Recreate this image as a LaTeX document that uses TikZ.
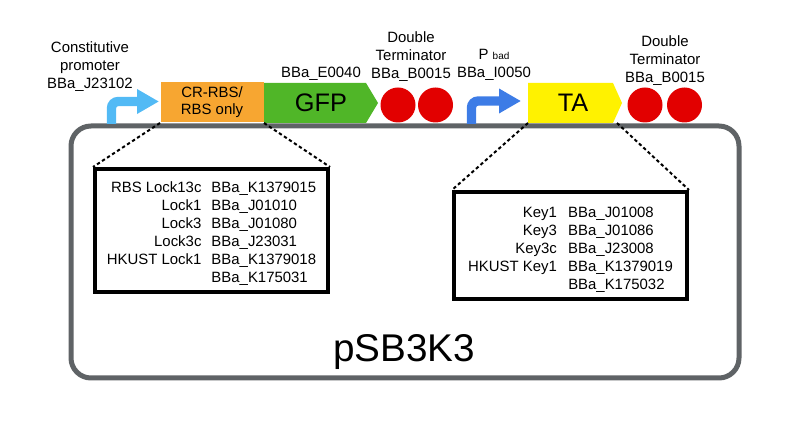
\documentclass[tikz,border=0pt]{standalone}
\usepackage{fontspec}
\setmainfont{Liberation Sans}
\usetikzlibrary{arrows.meta}

\definecolor{plasmidgray}{RGB}{95,99,102}
\definecolor{lightpromoter}{RGB}{82,186,245}
\definecolor{badpromoter}{RGB}{61,124,230}
\definecolor{rbsorange}{RGB}{247,166,49}
\definecolor{gfpgreen}{RGB}{80,182,40}
\definecolor{terminred}{RGB}{226,0,0}
\definecolor{tayellow}{RGB}{255,242,0}

\tikzset{every picture/.style={line width=0.75pt}}
\tikzset{
  label text/.style={inner sep=0.75pt, align=center, font=\fontsize{11.2}{13.5}\selectfont},
  big text/.style={inner sep=0.75pt, font=\fontsize{19}{22}\selectfont},
  promoter arrow/.style={line width=7pt, rounded corners=5pt, -{Triangle[length=16.5pt,width=17.5pt]}},
  part box/.style={inner sep=0pt, align=center, minimum height=30pt, anchor=south west, font=\fontsize{11.2}{12.75}\selectfont},
  list box/.style={draw, line width=3pt, inner sep=0pt, minimum width=174.75pt, font=\fontsize{11.2}{13.5}\selectfont},
  zoom line/.style={line width=1.5pt, dash pattern={on 2.5pt off 2pt}}
}

\begin{document}
\begin{tikzpicture}[x=0.75pt,y=0.75pt,yscale=-1,xscale=1]
\useasboundingbox (0,0) rectangle (800,434);

%Shape: Rounded Rectangle
\draw [plasmidgray, line width=3.75pt, rounded corners=15pt] (71,126) rectangle (739,378);

%Shape: Promoter
\draw [promoter arrow, lightpromoter] (111.5,124) -- (111.5,101.5) -- (159,101.5);
\draw [promoter arrow, badpromoter] (471.5,124) -- (471.5,101) -- (521,101);

%Shape: Rectangle
\draw (160,123) node [part box, fill=rbsorange, minimum width=77.25pt] (rbs) {CR-RBS/\\RBS only};

%Shape: Pentagon
\fill [gfpgreen] (264,83) -- (366,83) -- (378,103) -- (366,123) -- (264,123) -- cycle;
\fill [tayellow] (528,83) -- (613,83) -- (622,103) -- (613,123) -- (528,123) -- cycle;
\coordinate (taL) at (528,123);
\coordinate (taR) at (617,123);

%Shape: Circle
\fill [terminred] (398,105) circle (17.5);
\fill [terminred] (435.5,105) circle (17.5);
\fill [terminred] (645,105) circle (17.5);
\fill [terminred] (684.5,105) circle (17.5);

%Shape: Rectangle
\draw (211.5,230.5) node [list box, minimum height=92.25pt] (lockbox) {%
  \raisebox{-2.25pt}[\height][\depth]{\begin{tabular}{@{}r@{\hspace{7.5pt}}l@{}}
  RBS Lock13c & BBa\_K1379015\\
  Lock1 & BBa\_J01010\\
  Lock3 & BBa\_J01080\\
  Lock3c & BBa\_J23031\\
  HKUST Lock1 & BBa\_K1379018\\
  & BBa\_K175031
  \end{tabular}}};
\draw (570.5,245.5) node [list box, minimum height=80.25pt] (keybox) {%
  \raisebox{-3pt}[\height][\depth]{\begin{tabular}{@{}r@{\hspace{8.5pt}}l@{}}
  Key1 & BBa\_J01008\\
  Key3 & BBa\_J01086\\
  Key3c & BBa\_J23008\\
  HKUST Key1 & BBa\_K1379019\\
  & BBa\_K175032
  \end{tabular}}};

%Straight Lines
\draw [zoom line] (rbs.south west) -- (lockbox.north west);
\draw [zoom line] (rbs.south east) -- (lockbox.north east);
\draw [zoom line] (taL) -- (keybox.north west);
\draw [zoom line] (taR) -- (keybox.north east);

% Text Node
\draw (321,103) node [big text] (gfp) {GFP};
% Text Node
\draw (573,103) node [big text] (ta) {TA};
% Text Node
\draw (90,67) node [label text] (constlabel) {Constitutive\\promoter\\BBa\_J23102};
% Text Node
\draw (321,74) node [label text] (gfplabel) {BBa\_E0040};
% Text Node
\draw (411,57) node [label text] (termlabel) {Double\\Terminator\\BBa\_B0015};
% Text Node
\draw (494,64.5) node [label text] (pbadlabel) {P {\fontsize{7.5}{8}\selectfont bad}\\BBa\_I0050};
% Text Node
\draw (665,61) node [label text] (termlabelb) {Double\\Terminator\\BBa\_B0015};
% Text Node
\draw (404,352) node [inner sep=0.75pt, font=\fontsize{29}{34}\selectfont] (plasmidname) {pSB3K3};

\end{tikzpicture}
\end{document}
